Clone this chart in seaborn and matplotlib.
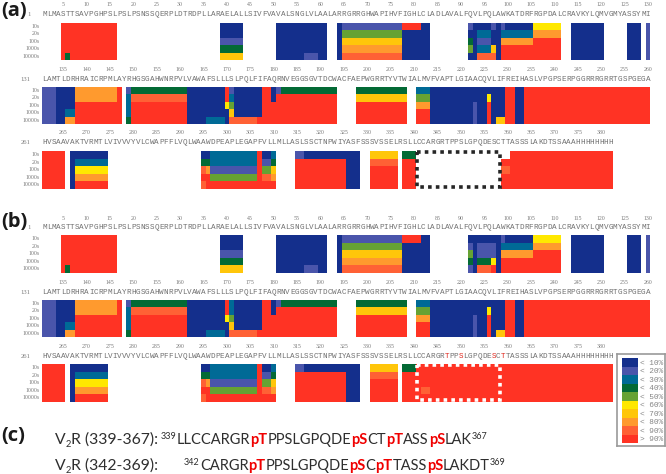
import numpy as np
import pandas as pd
import seaborn as sns
import matplotlib
matplotlib.use("Agg")
import matplotlib.pyplot as plt
from matplotlib.colors import ListedColormap
from matplotlib.patches import Rectangle

W, H = 666, 474
sns.set_theme(style="white")
plt.rcParams['font.family'] = ['Liberation Sans', 'DejaVu Sans']

# deuterium-uptake classes 0..9
class_labels = ["< 10%", "< 20%", "< 30%", "< 40%", "< 50%", "< 60%", "< 70%", "< 80%", "< 90%", "> 90%"]
class_colors = ["#142f8c", "#4a55ab", "#006a96", "#036a35", "#66a233",
                "#ffe800", "#ffc60a", "#ff9a2e", "#ff6135", "#ff3324"]
time_labels = ["10s", "20s", "100s", "1000s", "10000s"]

seq_row1 = "MLMASTTSAVPGHPSLPSLPSNSSQERPLDTRDPLLARAELALLSIVFVAVALSNGLVLAALARRGRRGHWAPIHVFIGHLCLADLAVALFQVLPQLAWKATDRFRGPDALCRAVKYLQMVGMYASSYMI"
seq_row2 = "LAMTLDRHRAICRPMLAYRHGSGAHWNRPVLVAWAFSLLLSLPQLFIFAQRNVEGGSGVTDCWACFAEPWGRRTYVTWIALMVFVAPTLGIAACQVLIFREIHASLVPGPSERPGGRRRGRRTGSPGEGA"
seq_row3 = "HVSAAVAKTVRMTLVIVVVYVLCWAPFFLVQLWAAWDPEAPLEGAPFVLLMLLASLSSCTNPWIYASFSSSVSSELRSLLCCARGRTPPSLGPQDESCTTASSSLAKDTSSAAAHHHHHHHH"
red_residues_b = [86, 89, 96, 98]
row_starts = [1, 131, 261]

# each entry: first residue column, end column, classes for the five time points
a_row1 = [(4, 16, [9, 9, 9, 9, 9]), (5, 6, [9, 9, 9, 9, 3]),
          (38, 43, [0, 0, 1, 3, 6]),
          (50, 61, [0, 0, 0, 0, 0]), (56, 59, [0, 0, 0, 0, 1]),
          (63, 64, [0, 0, 0, 0, 0]), (64, 77, [1, 4, 6, 7, 8]),
          (77, 81, [9, 0, 0, 0, 0]), (81, 83, [0, 0, 0, 0, 0]),
          (91, 92, [1, 0, 3, 4, 0]), (92, 93, [0, 0, 0, 0, 0]),
          (93, 96, [0, 2, 1, 2, 8]), (96, 97, [1, 0, 0, 6, 8]),
          (97, 98, [0, 0, 0, 0, 0]), (98, 99, [1, 2, 7, 9, 9]),
          (99, 105, [0, 2, 7, 9, 9]), (105, 111, [5, 7, 9, 9, 9]),
          (113, 120, [0, 0, 0, 0, 0]), (125, 128, [0, 0, 0, 0, 0]),
          (129, 130, [1, 1, 1, 1, 1])]
a_row2 = [(0, 3, [1, 1, 1, 1, 1]), (3, 5, [0, 0, 0, 0, 0]), (5, 7, [0, 0, 0, 2, 7]),
          (7, 16, [7, 7, 9, 9, 9]), (16, 17, [9, 9, 9, 9, 9]),
          (18, 19, [1, 2, 2, 2, 3]), (19, 31, [3, 8, 9, 9, 9]),
          (31, 35, [0, 0, 0, 0, 0]), (35, 39, [0, 0, 0, 0, 2]),
          (39, 40, [9, 9, 5, 0, 0]), (40, 41, [1, 2, 4, 6, 8]),
          (41, 46, [0, 0, 0, 0, 8]), (46, 47, [0, 0, 0, 0, 9]),
          (47, 49, [9, 9, 9, 9, 9]), (49, 50, [0, 0, 9, 9, 9]),
          (50, 51, [1, 9, 9, 9, 9]), (51, 63, [3, 9, 9, 9, 9]),
          (67, 78, [3, 6, 9, 9, 9]), (80, 83, [2, 4, 7, 9, 9]),
          (83, 92, [0, 0, 0, 0, 0]), (92, 93, [0, 0, 1, 1, 1]),
          (93, 95, [0, 0, 0, 0, 0]), (95, 96, [0, 5, 9, 9, 9]),
          (96, 97, [0, 0, 0, 0, 0]), (97, 99, [0, 0, 0, 0, 6]),
          (99, 101, [9, 9, 9, 9, 9]), (101, 103, [0, 0, 0, 0, 0]),
          (103, 130, [9, 9, 9, 9, 9])]
a_row3 = [(0, 5, [9, 9, 9, 9, 9]), (6, 7, [0, 0, 0, 0, 0]), (7, 14, [0, 2, 5, 7, 9]),
          (34, 35, [0, 3, 8, 9, 8]), (35, 36, [0, 3, 7, 9, 9]),
          (36, 46, [2, 2, 1, 4, 9]), (46, 47, [9, 9, 9, 9, 9]),
          (47, 49, [0, 1, 4, 8, 9]), (49, 50, [2, 3, 6, 7, 9]),
          (54, 56, [1, 9, 9, 9, 9]), (56, 65, [0, 9, 9, 9, 9]),
          (65, 68, [0, 0, 0, 0, 0]), (70, 76, [6, 8, 9, 9, 9]),
          (77, 80, [3, 9, 9, 9, 9]),
          (98, 100, [None, 9, 8, 9, 9]), (100, 122, [9, 9, 9, 9, 9])]

b_row1 = [(4, 16, [9, 9, 9, 9, 9]), (5, 6, [9, 9, 9, 9, 3]),
          (38, 43, [0, 0, 1, 3, 6]),
          (50, 61, [0, 0, 0, 0, 0]), (56, 59, [0, 0, 0, 0, 1]),
          (63, 64, [0, 0, 0, 0, 0]), (64, 77, [1, 4, 6, 7, 8]),
          (77, 81, [9, 0, 0, 0, 0]), (81, 83, [0, 0, 0, 0, 0]),
          (91, 92, [0, 1, 4, 3, 1]), (92, 93, [0, 0, 0, 0, 0]),
          (93, 96, [0, 1, 1, 3, 8]), (96, 97, [0, 1, 1, 5, 9]),
          (97, 98, [0, 0, 0, 0, 0]), (98, 99, [1, 2, 7, 9, 9]),
          (99, 105, [0, 2, 7, 9, 9]), (105, 111, [5, 7, 9, 9, 9]),
          (113, 120, [0, 0, 0, 0, 0]), (125, 128, [0, 0, 0, 0, 0]),
          (129, 130, [1, 1, 1, 1, 1])]
b_row2 = [(0, 3, [1, 1, 1, 1, 1]), (3, 5, [0, 0, 0, 0, 0]), (5, 7, [0, 0, 0, 2, 7]),
          (7, 16, [7, 7, 9, 9, 9]), (16, 17, [9, 9, 9, 9, 9]),
          (18, 19, [1, 2, 2, 2, 3]), (19, 31, [3, 8, 9, 9, 9]),
          (31, 35, [0, 0, 0, 0, 0]), (35, 39, [0, 0, 0, 0, 2]),
          (39, 40, [9, 9, 5, 0, 0]), (40, 41, [2, 2, 4, 6, 8]),
          (41, 46, [0, 0, 0, 0, 8]), (46, 47, [0, 0, 0, 0, 9]),
          (47, 49, [9, 9, 9, 9, 9]), (49, 50, [0, 0, 9, 9, 9]),
          (50, 51, [1, 9, 9, 9, 9]), (51, 63, [3, 9, 9, 9, 9]),
          (67, 78, [3, 6, 9, 9, 9]), (80, 83, [2, 4, 7, 9, 9]),
          (83, 92, [0, 0, 0, 0, 0]), (92, 93, [0, 0, 1, 1, 1]),
          (93, 95, [0, 0, 0, 0, 0]), (95, 96, [0, 5, 9, 9, 9]),
          (96, 97, [0, 0, 0, 0, 0]), (97, 99, [0, 0, 0, 0, 6]),
          (99, 101, [9, 9, 9, 9, 9]), (101, 103, [0, 0, 0, 0, 0]),
          (103, 130, [9, 9, 9, 9, 9])]
b_row3 = [(0, 5, [9, 9, 9, 9, 9]), (6, 7, [0, 0, 0, 0, 0]), (7, 14, [0, 2, 5, 7, 9]),
          (34, 35, [0, 3, 8, 9, 8]), (35, 36, [0, 3, 7, 9, 9]),
          (36, 46, [2, 2, 1, 4, 9]), (46, 47, [9, 9, 9, 9, 9]),
          (47, 49, [0, 1, 4, 8, 9]), (49, 50, [2, 3, 6, 7, 9]),
          (54, 56, [1, 9, 9, 9, 9]), (56, 65, [0, 9, 9, 9, 9]),
          (65, 68, [0, 0, 0, 0, 0]), (70, 76, [6, 8, 9, 9, 9]),
          (77, 80, [3, 9, 9, 9, 9]),
          (80, 122, [9, 9, 9, 9, 9]), (81, 83, [9, 9, 9, 8, 9])]

cmap = ListedColormap(class_colors)
fig = plt.figure(figsize=(W / 100, H / 100), dpi=100, facecolor="white")


def px_axes(x0, y0, x1, y1):
    return fig.add_axes([x0 / W, 1 - y1 / H, (x1 - x0) / W, (y1 - y0) / H])


def to_frame(segments):
    m = np.full((5, 130), np.nan)
    for start, stop, vals in segments:
        for r, v in enumerate(vals):
            if v is not None:
                m[r, start:stop] = v
    return pd.DataFrame(m, index=time_labels)


X0 = 42.0
CW = 4.68
TXT = "#7a7a7a"


def draw_row(segments, seq, first, y_top, y_ruler, y_seq, red=()):
    ax = px_axes(X0, y_top, X0 + 130 * CW, y_top + 37.5)
    df = to_frame(segments)
    sns.heatmap(df, ax=ax, cmap=cmap, vmin=-0.5, vmax=9.5, cbar=False,
                xticklabels=False, yticklabels=True)
    ax.tick_params(axis="y", length=0, pad=1.5, labelsize=4.2, labelcolor=TXT, rotation=0)
    for t in ax.get_yticklabels():
        t.set_family("Liberation Serif")
    for i, ch in enumerate(seq):
        ax.text(i + 0.5, (y_seq - y_top) / 7.5, ch, ha="center", va="center",
                fontsize=5.5, family="Liberation Mono",
                color="#e0281e" if i in red else "#707070", clip_on=False)
    for i in range(len(seq)):
        res = first + i
        if res % 5 == 0:
            ax.text(i + 0.5, (y_ruler - y_top) / 7.5, str(res), ha="center", va="center",
                    fontsize=4.2, family="Liberation Serif", color=TXT, clip_on=False)
    ax.text(-2.5, (y_seq - y_top) / 7.5, str(first), ha="right", va="center",
            fontsize=4.8, family="Liberation Serif", color=TXT, clip_on=False)
    return ax


draw_row(a_row1, seq_row1, row_starts[0], 22.5, 5, 14.3)
draw_row(a_row2, seq_row2, row_starts[1], 86.7, 69, 79)
ax_a3 = draw_row(a_row3, seq_row3, row_starts[2], 151, 133, 143)
draw_row(b_row1, seq_row1, row_starts[0], 235, 218, 227.7)
draw_row(b_row2, seq_row2, row_starts[1], 299.7, 282, 292)
ax_b3 = draw_row(b_row3, seq_row3, row_starts[2], 364, 346.7, 356.3, red=red_residues_b)

for ax, col in ((ax_a3, "#262626"), (ax_b3, "#ffffff")):
    ax.add_patch(Rectangle((80.2, 0.15), 17.7, 4.7, fill=False, edgecolor=col, linewidth=2.6,
                           linestyle=(0, (1, 1.15)), clip_on=False, zorder=5))

# panel letters
for s, y in (("(a)", 11), ("(b)", 222), ("(c)", 436)):
    fig.text(1 / W, 1 - y / H, s, fontsize=14.5, fontweight="bold", family="Open Sans",
             color="#1a1a1a", va="center", ha="left")

# legend
ax_frame = px_axes(617, 353.5, 664.5, 446)
ax_frame.set_xticks([])
ax_frame.set_yticks([])
for sp in ax_frame.spines.values():
    sp.set_edgecolor("#9a9a9a")
    sp.set_linewidth(1.2)
ax_leg = px_axes(621.5, 358, 638, 443)
leg_df = pd.DataFrame({"c": np.arange(10.0)}, index=class_labels)
sns.heatmap(leg_df, ax=ax_leg, cmap=cmap, vmin=-0.5, vmax=9.5, cbar=False,
            xticklabels=False, yticklabels=True)
ax_leg.yaxis.tick_right()
ax_leg.tick_params(axis="y", length=0, pad=1.5, labelsize=5.6, labelcolor="#858585", rotation=0)
for t in ax_leg.get_yticklabels():
    t.set_family("Liberation Mono")


# peptide lines built from coloured runs
def runs(x, y, parts, size=10.5):
    r = fig.canvas.get_renderer()
    for s, col, weight, scale, dy in parts:
        t = fig.text(x / W, 1 - (y - dy) / H, s, color=col, fontweight=weight,
                     fontsize=size * scale, family="Lato", va="baseline", ha="left")
        x += t.get_window_extent(r).width


DARK = "#2e2e2e"
RED = "#f00000"


def pep(s):
    out = []
    for i, chunk in enumerate(s.split("|")):
        if chunk:
            out.append((chunk, RED if i % 2 else DARK, "bold" if i % 2 else "normal", 1, 0))
    return out


label_parts = lambda a: [("V", DARK, "normal", 1, 0), ("2", DARK, "normal", 0.6, -3),
                         (a, DARK, "normal", 1, 0)]
pep_labels = ["R (339-367):", "R (342-369):"]
runs(55, 444, label_parts(pep_labels[0]), size=11.3)
runs(55, 470, label_parts(pep_labels[1]), size=11.3)
runs(161, 444, [("339", DARK, "normal", 0.62, 5)] + pep("LLCCARGR|pT|PPSLGPQDE|pS|CT|pT|ASS|pS|LAK") + [("367", DARK, "normal", 0.62, 5)])
runs(184, 470, [("342", DARK, "normal", 0.62, 5)] + pep("CARGR|pT|PPSLGPQDE|pS|C|pT|TASS|pS|LAKDT") + [("369", DARK, "normal", 0.62, 5)])

fig.savefig("out.png", dpi=100, facecolor="white")
